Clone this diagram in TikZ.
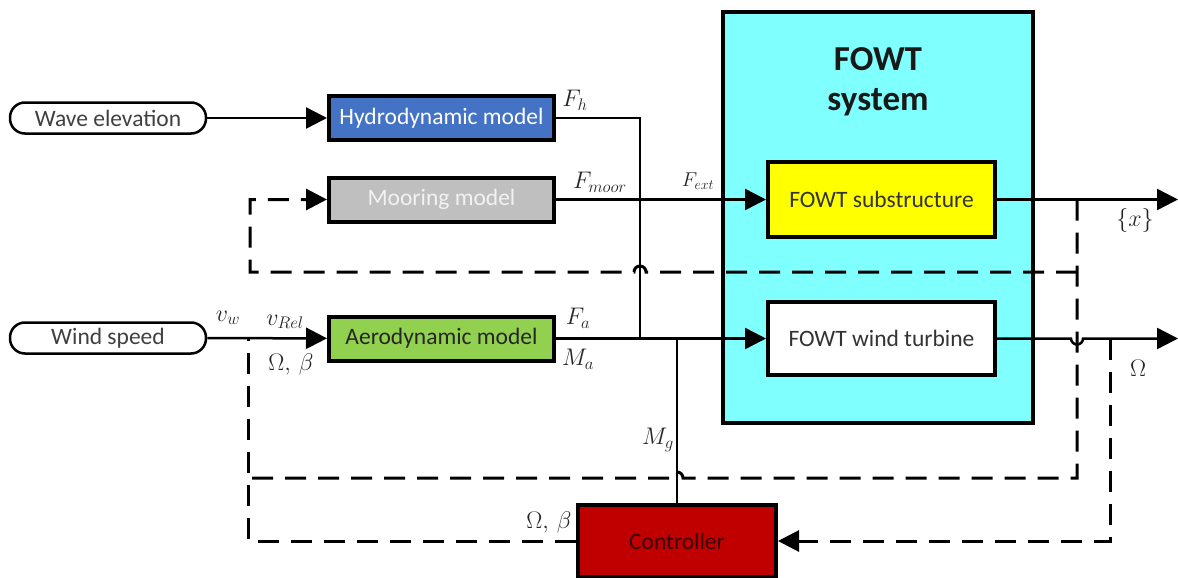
\RequirePackage{fix-cm}
\documentclass[tikz,border=0pt]{standalone}
\usepackage{fontspec}
\setmainfont{Carlito}
\usetikzlibrary{arrows.meta}
\definecolor{hydro}{HTML}{4472C4}
\definecolor{moor}{HTML}{BFBFBF}
\definecolor{aero}{HTML}{92D050}
\definecolor{sys}{HTML}{80FFFF}
\definecolor{subc}{HTML}{FFFF00}
\definecolor{ctrl}{HTML}{C00000}
\definecolor{ctrltext}{HTML}{3A0000}
\definecolor{pilltext}{HTML}{404040}
\begin{document}
\begin{tikzpicture}[x=1pt,y=-1pt,
  blk/.style={draw=black, line width=4pt, minimum width=225pt, minimum height=44pt, inner sep=0pt, font=\fontsize{23.5}{28}\selectfont},
  pill/.style={draw=black, line width=2.5pt, rounded corners=15pt, minimum width=196pt, minimum height=31pt, inner sep=0pt, font=\fontsize{23.5}{28}\selectfont, text=pilltext},
  sol/.style={line width=2.5pt},
  dsh/.style={line width=3pt, dash pattern=on 21pt off 12pt},
  tip/.style={-{Triangle[length=21pt,width=21pt]}},
  lab/.style={font=\fontsize{24}{28}\selectfont, inner sep=0pt, text=black!85}
]
\useasboundingbox (0,0) rectangle (1178,578);
\fill[white] (0,0) rectangle (1178,578);

% system box
\node[draw=black, line width=4pt, fill=sys, minimum width=310pt, minimum height=411pt, inner sep=0pt] (sys) at (878,217.5) {};
\node[font=\fontsize{35}{40}\selectfont\bfseries, align=center, text=black!90] (systitle) at (878,82) {FOWT\\system};

% blocks
\node[pill] (wave) at (108,118) {Wave elevation};
\node[pill] (wind) at (108,338) {Wind speed};
\node[blk, fill=hydro, text=white] (hydro) at (441.5,118) {Hydrodynamic model};
\node[blk, fill=moor, text=white!95!black] (moor) at (441.5,199.5) {Mooring model};
\node[blk, fill=aero, text=black!85] (aero) at (441.5,338.5) {Aerodynamic model};
\node[blk, fill=subc, text=black!80, minimum width=227pt, minimum height=75pt] (sub) at (881.5,199.5) {FOWT substructure};
\node[blk, fill=white, text=black!80, minimum width=227pt, minimum height=73pt] (turb) at (881.5,338.5) {FOWT wind turbine};
\node[blk, fill=ctrl, text=ctrltext, minimum width=198pt, minimum height=72pt] (ctrl) at (677,541) {Controller};

% coordinates
\coordinate (jh) at (640,118);
\coordinate (ja) at (640,338.5);
\coordinate (jm) at (677,338.5);
\coordinate (xout) at (1178,199.5);
\coordinate (oout) at (1178,338.5);
\coordinate (fbx) at (1077,199.5);
\coordinate (fbxb) at (1077,478);
\coordinate (fbm) at (1077,272);
\coordinate (ml) at (250,272);
\coordinate (mt) at (250,199.5);
\coordinate (jw) at (248,338);
\coordinate (cl) at (248,541);
\coordinate (fo) at (1110,338.5);
\coordinate (fob) at (1110,541);

% solid connectors
\draw[sol,tip] (wave) -- (hydro);
\draw[sol,tip] (wind) -- (aero);
\draw[sol] (hydro.east) -- (jh) -- (ja);
\draw[sol,tip] (moor.east) -- (sub.west);
\draw[sol,tip] (aero.east) -- (turb.west);
\draw[sol] (jm) -- (ctrl.north);
\draw[sol,tip] (sub.east) -- (xout);
\draw[sol,tip] (turb.east) -- (1071,338.5) arc[start angle=180, end angle=360, radius=6pt] -- (oout);

% dashed connectors
\draw[dsh] (fbx) -- (fbxb) -- (683,478) arc[start angle=0, end angle=180, radius=6pt] -- (248,478);
\draw[dsh,tip] (fbm) -- (646,272) arc[start angle=0, end angle=180, radius=6pt] -- (ml) -- (mt) -- (moor.west);
\draw[dsh] (ctrl.west) -- (cl) -- (jw);
\draw[dsh,tip] (fo) -- (fob) -- (ctrl.east);

% labels
\node[lab] (lfh) at (575,100) {$F_h$};
\node[lab] (lfm) at (600,182) {$F_{moor}$};
\node[lab, font=\fontsize{20}{24}\selectfont] (lfe) at (698,181) {$F_{ext}$};
\node[lab] (lfa) at (578,318) {$F_a$};
\node[lab] (lma) at (578,359) {$M_a$};
\node[lab] (lvw) at (228,318) {$v_w$};
\node[lab] (lvr) at (285,322) {$v_{Rel}$};
\node[lab] (lob1) at (291,364) {$\Omega,\,\beta$};
\node[lab] (lmg) at (658,440) {$M_g$};
\node[lab] (lob2) at (549,522) {$\Omega,\,\beta$};
\node[lab] (lx) at (1135,220) {$\{x\}$};
\node[lab] (lo) at (1138,368) {$\Omega$};
\end{tikzpicture}
\end{document}
